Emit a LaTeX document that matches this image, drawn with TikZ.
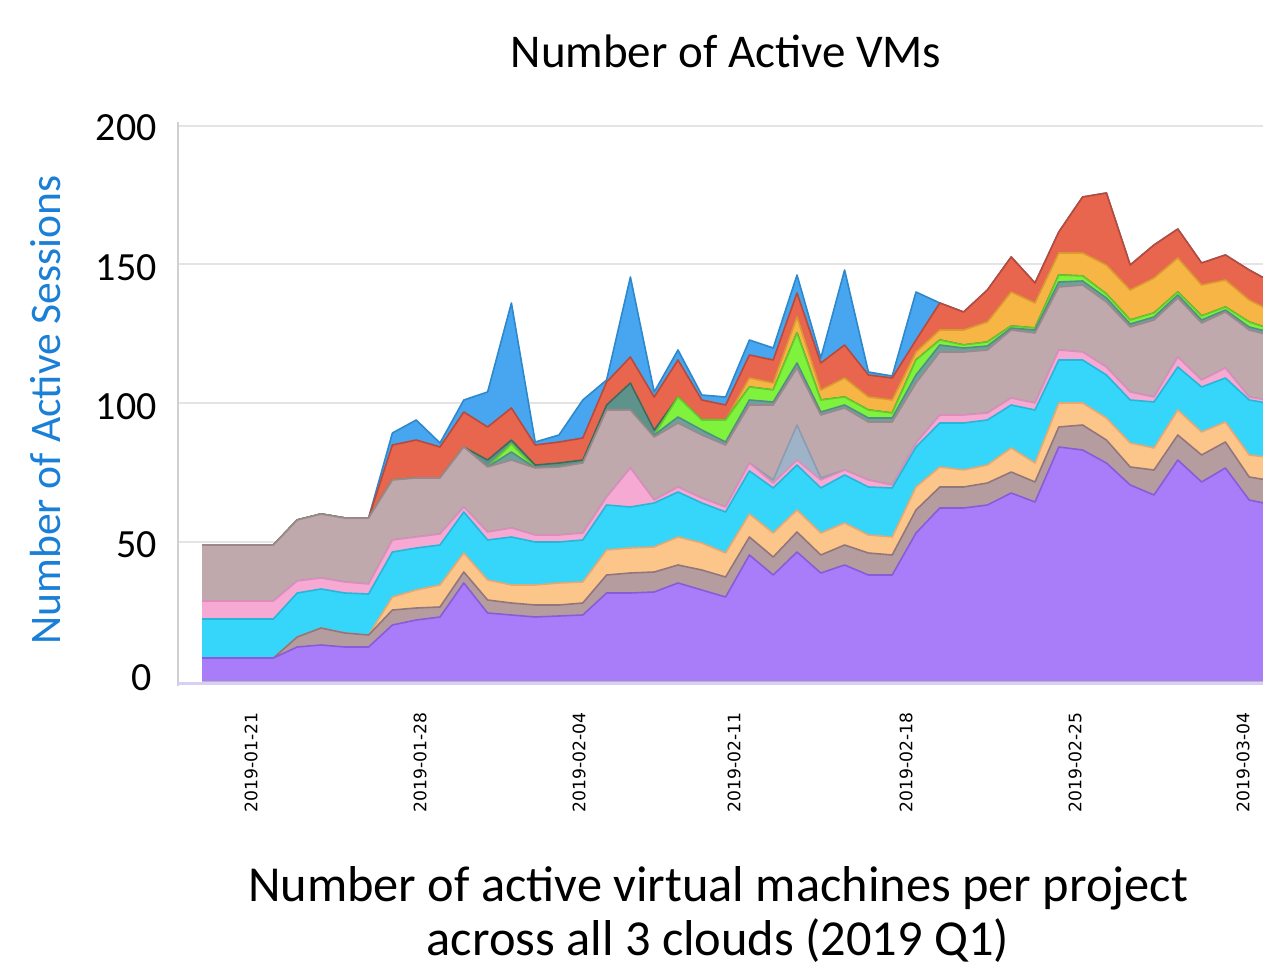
\documentclass[tikz,border=0pt]{standalone}
\usepackage{fontspec}
\setmainfont{Carlito}
\newfontfamily\datefont{DejaVu Sans}
\definecolor{cP}{HTML}{A97CFA}\definecolor{eP}{HTML}{8A5BD8}
\definecolor{cB}{HTML}{B59C9F}\definecolor{eB}{HTML}{93767B}
\definecolor{cPe}{HTML}{FCC68B}\definecolor{ePe}{HTML}{E6A872}
\definecolor{cC}{HTML}{36D6FA}\definecolor{eC}{HTML}{25B6DA}
\definecolor{cPk}{HTML}{F6A9D2}\definecolor{ePk}{HTML}{DB8EB9}
\definecolor{cBG}{HTML}{9FB3C8}\definecolor{eBG}{HTML}{8A9CB0}
\definecolor{cM}{HTML}{BFA9AD}\definecolor{eM}{HTML}{9D878B}
\definecolor{cT}{HTML}{6AA39B}\definecolor{eT}{HTML}{568C84}
\definecolor{cG}{HTML}{7EF23C}\definecolor{eG}{HTML}{63CC2A}
\definecolor{cD}{HTML}{5E938B}\definecolor{eD}{HTML}{43665F}
\definecolor{cO}{HTML}{F6B545}\definecolor{eO}{HTML}{D99A30}
\definecolor{cR}{HTML}{E8654E}\definecolor{eR}{HTML}{B9493A}
\definecolor{cBl}{HTML}{47A6EF}\definecolor{eBl}{HTML}{2E88CC}
\definecolor{axisblue}{HTML}{1A7FD6}
\definecolor{gridc}{HTML}{E4E4E4}
\definecolor{framec}{HTML}{CFCFD4}
\definecolor{lav}{HTML}{D8CEF6}
\def\firstofaux#1,#2\relax{#1}
\newcommand\stlayer[3]{%
  \edef\fv{\expandafter\firstofaux#3,\relax}%
  \fill[#1] (202,681) \foreach \yy [count=\i from 0] in #3 { -- ({202+23.8*\i},\yy) } -- (1273,681) -- cycle;
  \draw[#2, line width=0.8pt, line join=round] (202,\fv) \foreach \yy [count=\i from 0] in #3 { -- ({202+23.8*\i},\yy) };
}
\def\LP{658,658,658,658,647,645,647,647,625,620,617,583,613,615,617,616,615,593,593,592,583,590,597,555,575,552,573,565,575,575,533,508,508,505,493,502,447,450,463,485,495,460,482,468,500,505}
\def\LB{658,658,658,658,637,628,633,635,610,608,607,572,600,603,605,605,603,575,573,572,565,570,577,537,557,532,555,545,553,555,510,487,487,483,472,482,427,425,440,467,470,435,455,442,477,481}
\def\LPe{658,658,658,658,637,628,633,635,597,590,585,553,580,585,585,583,582,550,548,547,537,543,553,514,533,510,533,523,535,537,487,467,470,465,448,463,403,403,418,443,448,410,432,422,455,458}
\def\LC{619,619,619,619,593,589,593,594,552,548,545,512,540,537,542,542,540,505,507,503,492,503,512,471,488,465,488,475,487,488,447,423,423,420,405,410,360,360,375,400,402,367,387,378,400,404}
\def\LPk{601,601,601,601,581,578,582,584,540,537,534,507,532,528,535,535,533,497,468,500,487,498,507,463,483,460,480,470,480,485,443,415,415,413,398,403,350,352,367,392,397,357,380,368,397,401}
\def\LBG{601,601,601,601,581,578,582,584,540,537,534,507,532,528,535,535,533,497,468,500,487,498,507,463,480,425,478,470,480,485,443,415,415,413,398,403,350,352,367,392,397,357,380,368,397,401}
\def\LM{545,545,545,545,520,514,518,518,480,478,478,447,467,460,468,467,463,410,410,437,423,435,445,405,405,368,415,408,422,422,383,352,352,350,330,333,287,285,302,327,320,298,323,312,330,336}
\def\LT{545,545,545,545,520,514,518,518,480,478,478,447,467,452,468,467,463,410,410,435,417,430,442,400,402,363,412,405,418,418,375,345,348,346,328,330,282,281,298,324,317,295,320,310,327,333}
\def\LG{545,545,545,545,520,514,518,518,480,478,478,447,467,444,468,467,463,410,410,435,397,420,420,387,390,333,400,397,410,413,360,340,345,342,326,328,275,276,294,320,313,292,316,307,322,330}
\def\LD{545,545,545,545,520,514,518,518,480,478,478,447,460,440,465,463,460,405,383,430,397,420,420,387,390,333,400,397,410,413,360,340,345,342,326,328,275,276,294,320,313,292,316,307,322,330}
\def\LO{545,545,545,545,520,514,518,518,480,478,478,447,460,440,465,463,460,405,383,430,397,420,420,378,383,317,390,378,397,400,352,330,330,322,292,303,253,253,265,290,278,258,285,280,300,312}
\def\LR{545,545,545,545,520,514,518,518,445,440,447,412,427,408,445,442,438,382,357,397,360,400,405,355,360,293,363,345,375,378,340,303,312,290,257,283,232,197,193,265,245,229,263,255,270,283}
\def\LBl{545,545,545,545,520,514,518,518,433,420,443,400,392,303,442,435,400,380,277,392,350,395,397,340,348,275,358,270,372,376,292,303,312,290,257,283,232,197,193,265,245,229,263,255,270,283}
\begin{document}
\begin{tikzpicture}[x=0.5pt,y=-0.5pt,
  ticklab/.style={font=\fontsize{20}{24}\selectfont, anchor=base east, inner sep=0pt},
  datelab/.style={font=\datefont\fontsize{8.6}{10}\selectfont, rotate=90, anchor=east, inner sep=0pt},
  caplab/.style={font=\fontsize{25.2}{30}\selectfont, anchor=base, inner sep=0pt},
  gridline/.style={draw=gridc, line width=0.8pt}]
\useasboundingbox (0,0) rectangle (1263,968);
% grid and frame
\foreach \g in {126,264,403,542} { \draw[gridline] (178,\g) -- (1263,\g); }
\draw[framec, line width=1pt] (178,122) -- (178,686);
\draw[lav, line width=1.5pt] (178,683) -- (1263,683);
% stacked areas
\begin{scope}
\clip (179,100) rectangle (1263,682);
\stlayer{cBl}{eBl}{\LBl}
\stlayer{cR}{eR}{\LR}
\stlayer{cO}{eO}{\LO}
\stlayer{cD}{eD}{\LD}
\stlayer{cG}{eG}{\LG}
\stlayer{cT}{eT}{\LT}
\stlayer{cM}{eM}{\LM}
\stlayer{cBG}{eBG}{\LBG}
\stlayer{cPk}{ePk}{\LPk}
\stlayer{cC}{eC}{\LC}
\stlayer{cPe}{ePe}{\LPe}
\stlayer{cB}{eB}{\LB}
\stlayer{cP}{eP}{\LP}
\end{scope}
% texts
\node[font=\fontsize{23.5}{28}\selectfont, anchor=base, inner sep=0pt] (title) at (726,68) {Number of Active VMs};
\node[ticklab] (t200) at (157,141) {200};
\node[ticklab] (t150) at (157,280) {150};
\node[ticklab] (t100) at (157,419) {100};
\node[ticklab] (t50) at (157,557) {50};
\node[ticklab] (t0) at (152,690) {0};
\node[rotate=90, text=axisblue, font=\fontsize{21.8}{26}\selectfont, inner sep=0pt] (ylab) at (46,410) {Number of Active Sessions};
\node[datelab] (d1) at (251,712) {2019-01-21};
\node[datelab] (d2) at (420,712) {2019-01-28};
\node[datelab] (d3) at (579,712) {2019-02-04};
\node[datelab] (d4) at (734,712) {2019-02-11};
\node[datelab] (d5) at (906,712) {2019-02-18};
\node[datelab] (d6) at (1075,712) {2019-02-25};
\node[datelab] (d7) at (1243,712) {2019-03-04};
\node[caplab] (cap1) at (718,901) {Number of active virtual machines per project};
\node[caplab] (cap2) at (718,955) {across all 3 clouds (2019 Q1)};
\end{tikzpicture}
\end{document}
